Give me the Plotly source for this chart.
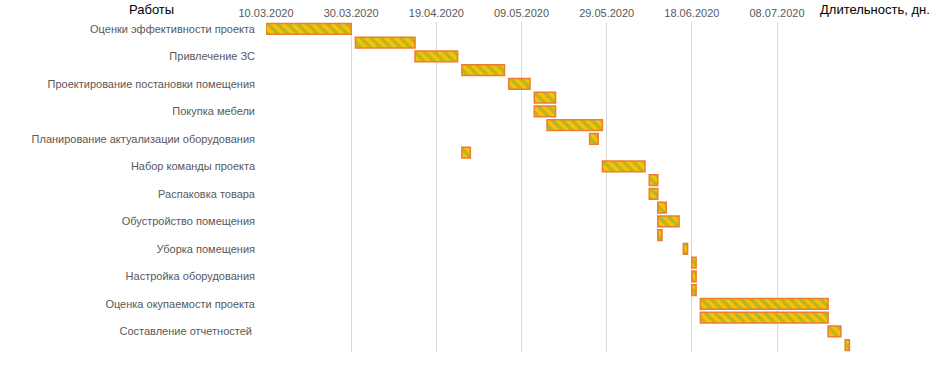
import plotly.graph_objects as go
import pandas as pd

# ---- data ----
row_labels = [
    "Оценки эффективности проекта", "",
    "Привлечение ЗС", "",
    "Проектирование постановки помещения", "",
    "Покупка мебели", "",
    "Планирование актуализации оборудования", "",
    "Набор команды проекта", "",
    "Распаковка товара", "",
    "Обустройство помещения", "",
    "Уборка помещения", "",
    "Настройка оборудования", "",
    "Оценка окупаемости проекта", "",
    "Составление отчетностей ", "",
]
start_dates = [
    "2020-03-10", "2020-03-31", "2020-04-14", "2020-04-25",
    "2020-05-06", "2020-05-12", "2020-05-12", "2020-05-15",
    "2020-05-25", "2020-04-25", "2020-05-28", "2020-06-08",
    "2020-06-08", "2020-06-10", "2020-06-10", "2020-06-10",
    "2020-06-16", "2020-06-18", "2020-06-18", "2020-06-18",
    "2020-06-20", "2020-06-20", "2020-07-20", "2020-07-24",
]
durations_days = [20, 14, 10, 10, 5, 5, 5, 13, 2, 2, 10, 2,
                  2, 2, 5, 1, 1, 1, 1, 1, 30, 30, 3, 1]
row_numbers = list(range(1, len(row_labels) + 1))

axis_start = "2020-03-10"
axis_end = "2020-07-27 23:00"
tick_step_days = 20

DAY_MS = 86400000

W, H = 945, 380
ML, MR, MT, MB = 266, 83, 22, 28
pw = W - ML - MR
ph = H - MT - MB

fig = go.Figure()
fig.add_trace(go.Bar(
    orientation="h",
    y=row_numbers,
    base=pd.to_datetime(start_dates),
    x=[d * DAY_MS for d in durations_days],
    width=0.78,
    marker=dict(
        color="#FFC000",
        line=dict(color="#ED7D31", width=1.5),
        pattern=dict(shape="\\", fgcolor="#70AD47", bgcolor="#FFC000",
                     size=7, solidity=0.5, fillmode="overlay"),
    ),
    hoverinfo="skip",
))

font_family = "Liberation Sans, Arial, sans-serif"

fig.update_layout(
    width=W, height=H,
    margin=dict(l=ML, r=MR, t=MT, b=MB, autoexpand=False),
    paper_bgcolor="white", plot_bgcolor="white",
    showlegend=False,
    font=dict(family=font_family, size=11, color="#595959"),
    xaxis=dict(
        type="date", side="top", automargin=False,
        range=[axis_start, axis_end],
        tick0=axis_start, dtick=tick_step_days * DAY_MS,
        tickformat="%d.%m.%Y",
        showgrid=True, gridcolor="#D9D9D9", gridwidth=1,
        zeroline=False, showline=False, ticks="",
        tickfont=dict(size=11, color="#595959"),
        ticklabelstandoff=2,
    ),
    yaxis=dict(
        automargin=False,
        range=[len(row_labels) + 0.5, 0.5],
        tickvals=row_numbers, ticktext=row_labels,
        showgrid=False, zeroline=False, showline=False, ticks="",
        tickfont=dict(size=11, color="#595959"),
        ticklabelstandoff=10,
    ),
    annotations=[
        dict(text="Работы", x=(151 - ML) / pw, y=1 + (MT - 10) / ph,
             xref="paper", yref="paper", xanchor="center", yanchor="middle",
             showarrow=False, font=dict(size=13, color="#000000")),
        dict(text="Длительность, дн.", x=(818 - ML) / pw, y=1 + (MT - 10) / ph,
             xref="paper", yref="paper", xanchor="left", yanchor="middle",
             showarrow=False, font=dict(size=13, color="#000000")),
    ],
)

fig.write_html(
    "out.html",
    config={"displayModeBar": False, "staticPlot": True},
    post_script="document.body.style.margin='0';document.body.style.overflow='hidden';",
)
